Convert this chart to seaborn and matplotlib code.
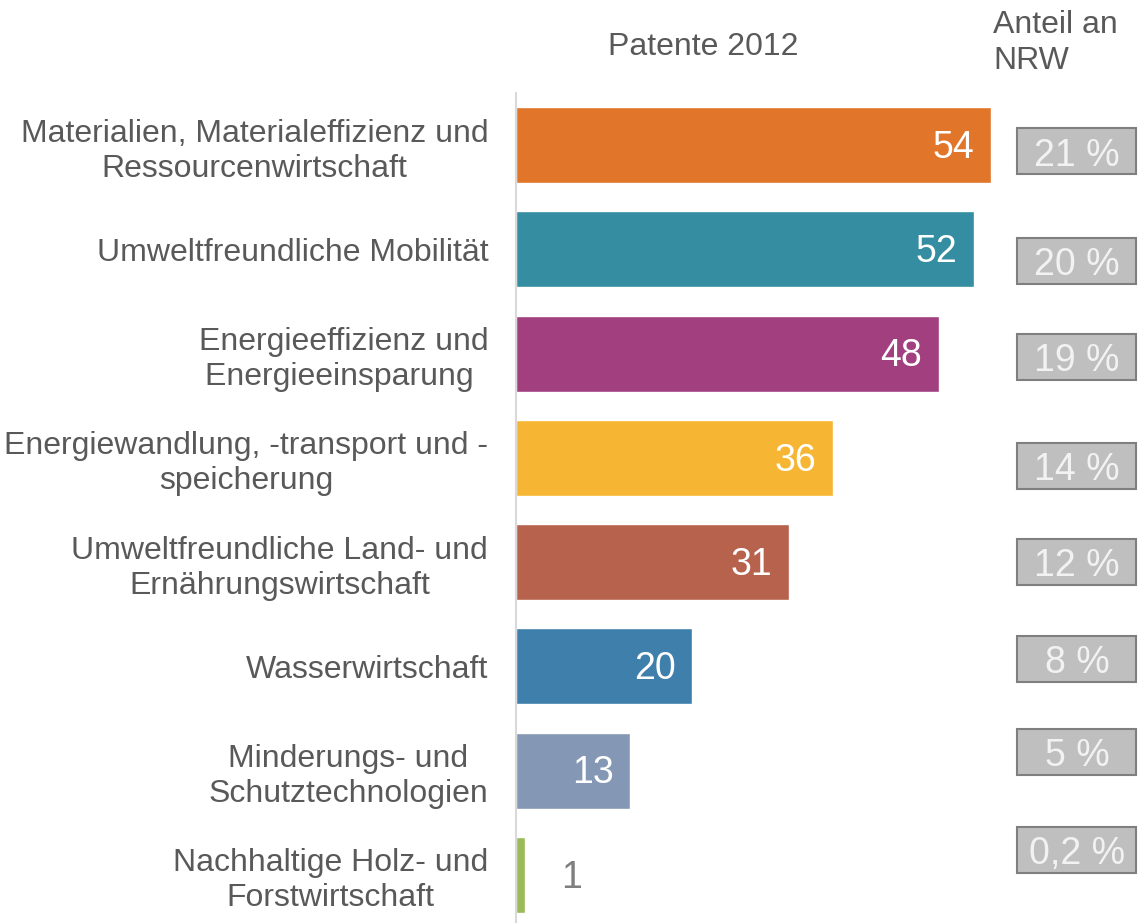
import matplotlib
matplotlib.use("Agg")
import matplotlib.pyplot as plt
import seaborn as sns
import pandas as pd
from matplotlib import font_manager
from matplotlib.patches import Rectangle
from matplotlib.transforms import blended_transform_factory

# Data
categories = [
    "Materialien, Materialeffizienz und\nRessourcenwirtschaft",
    "Umweltfreundliche Mobilität",
    "Energieeffizienz und\nEnergieeinsparung ",
    "Energiewandlung, -transport und -\nspeicherung",
    "Umweltfreundliche Land- und\nErnährungswirtschaft",
    "Wasserwirtschaft",
    "Minderungs- und\nSchutztechnologien",
    "Nachhaltige Holz- und\nForstwirtschaft",
]
patents = [54, 52, 48, 36, 31, 20, 13, 1]
share_labels = ["21 %", "20 %", "19 %", "14 %", "12 %", "8 %", "5 %", "0,2 %"]
colors = ["#E1762B", "#348DA0", "#A13F7F", "#F6B633",
          "#B6624D", "#3F7FAB", "#8497B4", "#9BBB59"]

# vertical nudge of the share boxes (in bar slots), like on the original slide
box_nudge = [0.06, 0.11, 0.03, 0.08, 0.0, -0.07, -0.18, -0.24]

TXT = "#595959"

sns.set_theme(style="white")
plt.rcParams["font.family"] = ["Liberation Sans", "DejaVu Sans"]

names = {f.name for f in font_manager.fontManager.ttflist}
if "Liberation Sans Narrow" in names:
    box_font, box_size = "Liberation Sans Narrow", 32
else:
    box_font, box_size = "Liberation Sans", 27

df = pd.DataFrame({"Bereich": categories, "Patente": patents})

fig = plt.figure(figsize=(11.38, 9.23), dpi=100)
ax = fig.add_axes([516 / 1138, -4 / 923, 493 / 1138, 834 / 923])

sns.barplot(data=df, y="Bereich", x="Patente", hue="Bereich", palette=colors,
            width=0.73, saturation=1, legend=False, orient="h", ax=ax)

ax.set_xlim(0, 56)
ax.set_ylim(7.5, -0.5)
ax.set_xticks([])
ax.set_xlabel("")
ax.set_ylabel("")
for s in ["top", "right", "bottom"]:
    ax.spines[s].set_visible(False)
ax.spines["left"].set_color("#D9D9D9")
ax.spines["left"].set_linewidth(1.5)

ax.set_yticks(range(len(categories)))
ax.set_yticklabels(categories, fontsize=23, color=TXT)
ax.tick_params(axis="y", length=0, pad=20)
for t in ax.get_yticklabels():
    t.set_multialignment("center")
    t.set_linespacing(1.22)

# value labels
for i, v in enumerate(patents):
    if v >= 5:
        ax.annotate(str(v), xy=(v, i), xytext=(-12, -2), textcoords="offset points",
                    ha="right", va="center", color="white", fontsize=27)
    else:
        ax.annotate(str(v), xy=(v, i), xytext=(26, -2), textcoords="offset points",
                    ha="left", va="center", color="#7F7F7F", fontsize=27)

# share boxes on the right
trans = blended_transform_factory(fig.transFigure, ax.transData)
for i, lab in enumerate(share_labels):
    yc = i + box_nudge[i]
    ax.add_patch(Rectangle((1017 / 1138, yc - 0.22), 119 / 1138, 0.44,
                           transform=trans, facecolor="#BFBFBF", edgecolor="#7F7F7F",
                           lw=1.5, clip_on=False))
    ax.text(1077 / 1138, yc + 0.04, lab, transform=trans, ha="center", va="center",
            fontsize=box_size, family=box_font, color="#F2F2F2", clip_on=False)

fig.text(703 / 1138, 1 - 47 / 923, "Patente 2012", ha="center", va="center",
         fontsize=23, color=TXT)
fig.text(993 / 1138, 1 - 43 / 923, "Anteil an\nNRW", ha="left", va="center",
         fontsize=23, color=TXT, linespacing=1.22)

fig.savefig("out.png", dpi=100)
